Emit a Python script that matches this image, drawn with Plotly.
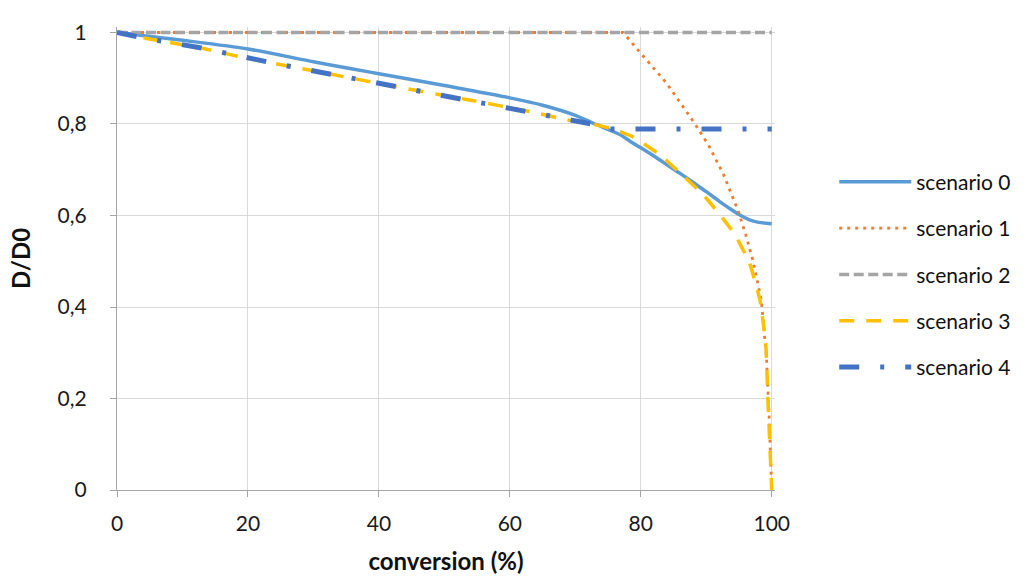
import plotly.graph_objects as go

# conversion (%) vs. relative diffusivity D/D0 for five scenarios
x_s0 = [0, 10, 20, 30, 36, 40, 50, 60, 65, 70, 73, 76.8, 78.3, 80, 82, 84, 86, 88, 90, 92, 93.5, 95, 96.5, 98, 100]
y_s0 = [1.0, 0.983, 0.964, 0.936, 0.92, 0.91, 0.884, 0.857, 0.841, 0.819, 0.80, 0.777, 0.763, 0.748, 0.73, 0.711,
        0.692, 0.672, 0.652, 0.631, 0.616, 0.602, 0.591, 0.585, 0.582]

x_s1 = [0, 77.3, 79.8, 83.9, 88.2, 90.3, 92.6, 94.9, 96.1, 97.1, 98.4, 99.2, 99.6, 100]
y_s1 = [1.0, 1.0, 0.958, 0.89, 0.802, 0.755, 0.691, 0.609, 0.555, 0.503, 0.416, 0.29, 0.16, 0.0]

x_s2 = [0, 100]
y_s2 = [1.0, 1.0]

x_s3 = [0, 4.5, 12.9, 18.8, 24.9, 33, 41, 49.3, 53.6, 63.5, 68.4, 73.2, 75.7, 78.8, 82.9, 86, 89.3,
        92.1, 94.4, 96.6, 98.2, 99.1, 99.4, 99.7, 100]
y_s3 = [1.0, 0.987, 0.966, 0.947, 0.93, 0.908, 0.886, 0.864, 0.853, 0.826, 0.81, 0.798, 0.789, 0.772, 0.733,
        0.693, 0.649, 0.602, 0.558, 0.497, 0.416, 0.32, 0.204, 0.103, 0.0]

x_s4 = [0, 4.5, 12.9, 18.8, 24.9, 33, 41, 49.3, 53.6, 63.5, 68.4, 73.2, 75.2, 100]
y_s4 = [1.0, 0.987, 0.966, 0.947, 0.93, 0.908, 0.886, 0.864, 0.853, 0.826, 0.81, 0.798, 0.789, 0.789]

names = ["scenario 0", "scenario 1", "scenario 2", "scenario 3", "scenario 4"]
x_ticks = [0, 20, 40, 60, 80, 100]
y_ticks = [0, 0.2, 0.4, 0.6, 0.8, 1]
y_tick_text = ["0", "0,2", "0,4", "0,6", "0,8", "1"]

FONT = "Lato"

fig = go.Figure()
fig.add_trace(go.Scatter(x=x_s0, y=y_s0, name=names[0], legendgroup="g0", mode="lines",
                         line=dict(color="#5B9BD5", width=3.5, shape="spline", smoothing=0.8)))
fig.add_trace(go.Scatter(x=x_s1, y=y_s1, name=names[1], legendgroup="g1", mode="lines",
                         line=dict(color="#ED7D31", width=2.8, dash="3px,5px")))
fig.add_trace(go.Scatter(x=x_s2, y=y_s2, name=names[2], legendgroup="g2", mode="lines",
                         line=dict(color="#A5A5A5", width=3.5, dash="10px,4.5px")))
fig.add_trace(go.Scatter(x=x_s3, y=y_s3, name=names[3], legendgroup="g3", mode="lines",
                         line=dict(color="#FFC000", width=3.5, dash="15px,12px", shape="spline", smoothing=0.3)))
fig.add_trace(go.Scatter(x=x_s4, y=y_s4, name=names[4], legendgroup="g4", mode="lines",
                         line=dict(color="#4472C4", width=5, dash="20px,21px,4px,21px")))

fig.update_layout(
    width=1031, height=576,
    margin=dict(l=117, r=256, t=27, b=86),
    paper_bgcolor="white", plot_bgcolor="white",
    font=dict(family=FONT, size=21, color="#1a1a1a"),
    showlegend=True,
    legend=dict(x=1.09, xanchor="left", y=0.465, yanchor="middle",
                itemwidth=72, tracegroupgap=16,
                font=dict(family=FONT, size=21, color="#111111"),
                bgcolor="rgba(0,0,0,0)"),
)
fig.update_xaxes(
    range=[0, 100.5], tickvals=x_ticks, ticktext=[str(v) for v in x_ticks],
    showgrid=True, gridcolor="#D9D9D9", gridwidth=1,
    showline=True, linecolor="#A6A6A6", linewidth=1.3,
    ticks="outside", ticklen=6, tickcolor="#A6A6A6",
    ticklabelstandoff=9, automargin=False,
    zeroline=False,
    title=dict(text="<b>conversion (%)</b>", font=dict(family=FONT, size=24, color="#111111"), standoff=18),
)
fig.update_yaxes(
    range=[0, 1.012], tickvals=y_ticks, ticktext=y_tick_text,
    showgrid=True, gridcolor="#D9D9D9", gridwidth=1,
    showline=True, linecolor="#A6A6A6", linewidth=1.3,
    ticks="outside", ticklen=6, tickcolor="#A6A6A6",
    ticklabelstandoff=19, automargin=False,
    zeroline=False,
    title=dict(text="<b>D/D0</b>", font=dict(family=FONT, size=24, color="#111111"), standoff=20),
)

fig.write_html("out.html")
